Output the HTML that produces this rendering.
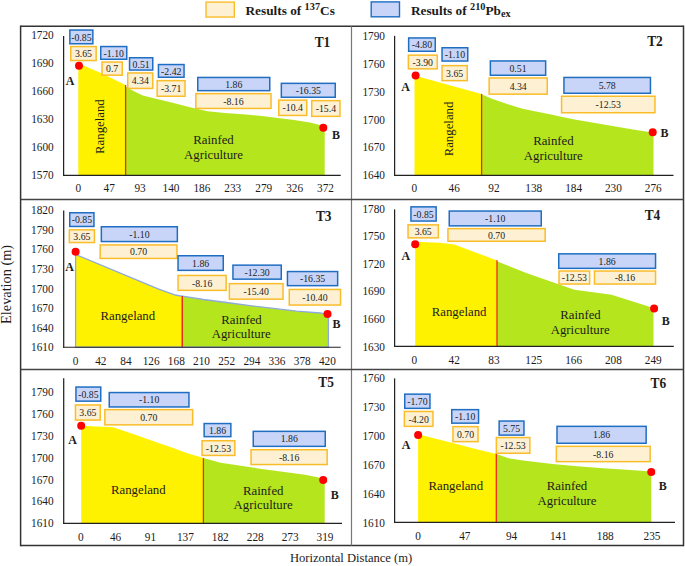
<!DOCTYPE html>
<html><head><meta charset="utf-8"><style>
html,body{margin:0;padding:0;background:#fff;width:685px;height:566px;overflow:hidden}
svg{display:block;font-family:"Liberation Serif",serif}
</style></head><body>
<svg width="685" height="566" viewBox="0 0 685 566" font-family='"Liberation Serif", serif'><polygon points="78.3,63.3 100.3,72.7 125.6,84.9 125.6,175.3 78.3,175.3" fill="#fff200" stroke="none" stroke-width="0"/>
<polygon points="125.6,86.3 126.1,87 137.5,93.1 142.8,95.4 155,98.4 172.6,102.8 190,107.2 207.6,111.2 225,112.9 246,114.5 262,116.1 278,118 294,120.1 310,122.5 320,124.9 324.7,126.5 324.7,175.3 125.6,175.3" fill="#b5e61d" stroke="none" stroke-width="0"/>
<line x1="125.6" y1="85.1" x2="125.6" y2="175.3" stroke="#ee2a12" stroke-width="1.3"/>
<line x1="63.6" y1="36" x2="63.6" y2="175.9" stroke="#222" stroke-width="1.25"/>
<line x1="63.0" y1="175.3" x2="340.7" y2="175.3" stroke="#222" stroke-width="1.2"/>
<text transform="translate(53.7,39.46) scale(1,1.09)" font-size="11.3" text-anchor="end" font-weight="normal" fill="#1c1c1c" >1720</text>
<text transform="translate(53.7,67.44) scale(1,1.09)" font-size="11.3" text-anchor="end" font-weight="normal" fill="#1c1c1c" >1690</text>
<text transform="translate(53.7,95.42) scale(1,1.09)" font-size="11.3" text-anchor="end" font-weight="normal" fill="#1c1c1c" >1660</text>
<text transform="translate(53.7,123.40) scale(1,1.09)" font-size="11.3" text-anchor="end" font-weight="normal" fill="#1c1c1c" >1630</text>
<text transform="translate(53.7,151.38) scale(1,1.09)" font-size="11.3" text-anchor="end" font-weight="normal" fill="#1c1c1c" >1600</text>
<text transform="translate(53.7,179.36) scale(1,1.09)" font-size="11.3" text-anchor="end" font-weight="normal" fill="#1c1c1c" >1570</text>
<text transform="translate(78.30,192.26) scale(1,1.09)" font-size="11.3" text-anchor="middle" font-weight="normal" fill="#1c1c1c" >0</text>
<text transform="translate(109.20,192.26) scale(1,1.09)" font-size="11.3" text-anchor="middle" font-weight="normal" fill="#1c1c1c" >47</text>
<text transform="translate(140.10,192.26) scale(1,1.09)" font-size="11.3" text-anchor="middle" font-weight="normal" fill="#1c1c1c" >93</text>
<text transform="translate(171.00,192.26) scale(1,1.09)" font-size="11.3" text-anchor="middle" font-weight="normal" fill="#1c1c1c" >140</text>
<text transform="translate(201.90,192.26) scale(1,1.09)" font-size="11.3" text-anchor="middle" font-weight="normal" fill="#1c1c1c" >186</text>
<text transform="translate(232.80,192.26) scale(1,1.09)" font-size="11.3" text-anchor="middle" font-weight="normal" fill="#1c1c1c" >233</text>
<text transform="translate(263.70,192.26) scale(1,1.09)" font-size="11.3" text-anchor="middle" font-weight="normal" fill="#1c1c1c" >279</text>
<text transform="translate(294.60,192.26) scale(1,1.09)" font-size="11.3" text-anchor="middle" font-weight="normal" fill="#1c1c1c" >326</text>
<text transform="translate(325.50,192.26) scale(1,1.09)" font-size="11.3" text-anchor="middle" font-weight="normal" fill="#1c1c1c" >372</text>
<rect x="69.85" y="30.05" width="23.00" height="13.70" fill="#c8d5f8" stroke="#1f6ec2" stroke-width="1.5"/>
<text transform="translate(81.35,40.51) scale(1,1.09)" font-size="9.8" text-anchor="middle" font-weight="normal" fill="#1c1c1c" >-0.85</text>
<rect x="70.75" y="46.55" width="25.40" height="14.00" fill="#fdf0d3" stroke="#fabd2a" stroke-width="1.5"/>
<text transform="translate(83.45,57.16) scale(1,1.09)" font-size="9.8" text-anchor="middle" font-weight="normal" fill="#1c1c1c" >3.65</text>
<rect x="100.75" y="46.55" width="26.00" height="12.70" fill="#c8d5f8" stroke="#1f6ec2" stroke-width="1.5"/>
<text transform="translate(113.75,56.51) scale(1,1.09)" font-size="9.8" text-anchor="middle" font-weight="normal" fill="#1c1c1c" >-1.10</text>
<rect x="102.05" y="62.05" width="20.20" height="13.10" fill="#fdf0d3" stroke="#fabd2a" stroke-width="1.5"/>
<text transform="translate(112.15,72.21) scale(1,1.09)" font-size="9.8" text-anchor="middle" font-weight="normal" fill="#1c1c1c" >0.7</text>
<rect x="129.55" y="57.75" width="23.20" height="12.30" fill="#c8d5f8" stroke="#1f6ec2" stroke-width="1.5"/>
<text transform="translate(141.15,67.51) scale(1,1.09)" font-size="9.8" text-anchor="middle" font-weight="normal" fill="#1c1c1c" >0.51</text>
<rect x="127.75" y="72.95" width="25.00" height="15.50" fill="#fdf0d3" stroke="#fabd2a" stroke-width="1.5"/>
<text transform="translate(140.25,84.31) scale(1,1.09)" font-size="9.8" text-anchor="middle" font-weight="normal" fill="#1c1c1c" >4.34</text>
<rect x="158.45" y="64.55" width="25.60" height="12.70" fill="#c8d5f8" stroke="#1f6ec2" stroke-width="1.5"/>
<text transform="translate(171.25,74.51) scale(1,1.09)" font-size="9.8" text-anchor="middle" font-weight="normal" fill="#1c1c1c" >-2.42</text>
<rect x="157.15" y="80.65" width="27.90" height="15.60" fill="#fdf0d3" stroke="#fabd2a" stroke-width="1.5"/>
<text transform="translate(171.10,92.06) scale(1,1.09)" font-size="9.8" text-anchor="middle" font-weight="normal" fill="#1c1c1c" >-3.71</text>
<rect x="197.75" y="77.45" width="72.00" height="13.20" fill="#c8d5f8" stroke="#1f6ec2" stroke-width="1.5"/>
<text transform="translate(233.75,87.66) scale(1,1.09)" font-size="9.8" text-anchor="middle" font-weight="normal" fill="#1c1c1c" >1.86</text>
<rect x="195.85" y="93.65" width="75.20" height="14.80" fill="#fdf0d3" stroke="#fabd2a" stroke-width="1.5"/>
<text transform="translate(233.45,104.66) scale(1,1.09)" font-size="9.8" text-anchor="middle" font-weight="normal" fill="#1c1c1c" >-8.16</text>
<rect x="281.35" y="83.35" width="53.90" height="13.90" fill="#c8d5f8" stroke="#1f6ec2" stroke-width="1.5"/>
<text transform="translate(308.30,93.91) scale(1,1.09)" font-size="9.8" text-anchor="middle" font-weight="normal" fill="#1c1c1c" >-16.35</text>
<rect x="278.75" y="100.15" width="28.00" height="15.30" fill="#fdf0d3" stroke="#fabd2a" stroke-width="1.5"/>
<text transform="translate(292.75,111.41) scale(1,1.09)" font-size="9.8" text-anchor="middle" font-weight="normal" fill="#1c1c1c" >-10.4</text>
<rect x="311.75" y="100.65" width="28.20" height="15.70" fill="#fdf0d3" stroke="#fabd2a" stroke-width="1.5"/>
<text transform="translate(325.85,112.11) scale(1,1.09)" font-size="9.8" text-anchor="middle" font-weight="normal" fill="#1c1c1c" >-15.4</text>
<circle cx="79" cy="65.8" r="4" fill="#ff0000"/>
<circle cx="323.3" cy="127.7" r="4" fill="#ff0000"/>
<text transform="translate(70,84.7) scale(1,1.12)" font-size="12" text-anchor="middle" font-weight="bold" fill="#1c1c1c" >A</text>
<text transform="translate(336,139) scale(1,1.12)" font-size="12" text-anchor="middle" font-weight="bold" fill="#1c1c1c" >B</text>
<text transform="translate(322.5,46.8) scale(1,1.1)" font-size="13.4" text-anchor="middle" font-weight="bold" fill="#1c1c1c" >T1</text>
<text x="0" y="0" font-size="12.8" text-anchor="middle" fill="#1c1c1c" transform="translate(99.0,126.6) rotate(-90) scale(1,1.05)" dy="4.3">Rangeland</text>
<text transform="translate(213.5,144.2) scale(1,1.0)" font-size="12.8" text-anchor="middle" font-weight="normal" fill="#1c1c1c" >Rainfed</text>
<text transform="translate(213.5,158.6) scale(1,1.0)" font-size="12.8" text-anchor="middle" font-weight="normal" fill="#1c1c1c" >Agriculture</text>
<polygon points="414.5,75.4 481.5,93.9 481.5,175.3 414.5,175.3" fill="#fff200" stroke="none" stroke-width="0"/>
<polygon points="481.5,94.3 492.6,99 507.2,104.1 521.8,108.4 533.5,111.1 551,114.6 560,116.4 574.6,119.4 589.2,122.1 603.8,124.6 618.4,127.1 633,129.5 647.6,131.7 653.5,133.2 653.5,175.3 481.5,175.3" fill="#b5e61d" stroke="none" stroke-width="0"/>
<line x1="481.6" y1="93.9" x2="481.6" y2="175.3" stroke="#ee2a12" stroke-width="1.3"/>
<line x1="394.6" y1="35.8" x2="394.6" y2="175.9" stroke="#222" stroke-width="1.25"/>
<line x1="394.0" y1="175.3" x2="673.5" y2="175.3" stroke="#222" stroke-width="1.2"/>
<text transform="translate(385,40.16) scale(1,1.09)" font-size="11.3" text-anchor="end" font-weight="normal" fill="#1c1c1c" >1790</text>
<text transform="translate(385,67.94) scale(1,1.09)" font-size="11.3" text-anchor="end" font-weight="normal" fill="#1c1c1c" >1760</text>
<text transform="translate(385,95.72) scale(1,1.09)" font-size="11.3" text-anchor="end" font-weight="normal" fill="#1c1c1c" >1730</text>
<text transform="translate(385,123.50) scale(1,1.09)" font-size="11.3" text-anchor="end" font-weight="normal" fill="#1c1c1c" >1700</text>
<text transform="translate(385,151.28) scale(1,1.09)" font-size="11.3" text-anchor="end" font-weight="normal" fill="#1c1c1c" >1670</text>
<text transform="translate(385,179.06) scale(1,1.09)" font-size="11.3" text-anchor="end" font-weight="normal" fill="#1c1c1c" >1640</text>
<text transform="translate(414.40,192.06) scale(1,1.09)" font-size="11.3" text-anchor="middle" font-weight="normal" fill="#1c1c1c" >0</text>
<text transform="translate(454.20,192.06) scale(1,1.09)" font-size="11.3" text-anchor="middle" font-weight="normal" fill="#1c1c1c" >46</text>
<text transform="translate(494.00,192.06) scale(1,1.09)" font-size="11.3" text-anchor="middle" font-weight="normal" fill="#1c1c1c" >92</text>
<text transform="translate(533.80,192.06) scale(1,1.09)" font-size="11.3" text-anchor="middle" font-weight="normal" fill="#1c1c1c" >138</text>
<text transform="translate(573.60,192.06) scale(1,1.09)" font-size="11.3" text-anchor="middle" font-weight="normal" fill="#1c1c1c" >184</text>
<text transform="translate(613.40,192.06) scale(1,1.09)" font-size="11.3" text-anchor="middle" font-weight="normal" fill="#1c1c1c" >230</text>
<text transform="translate(653.20,192.06) scale(1,1.09)" font-size="11.3" text-anchor="middle" font-weight="normal" fill="#1c1c1c" >276</text>
<rect x="408.65" y="37.95" width="26.60" height="13.30" fill="#c8d5f8" stroke="#1f6ec2" stroke-width="1.5"/>
<text transform="translate(421.95,48.21) scale(1,1.09)" font-size="9.8" text-anchor="middle" font-weight="normal" fill="#1c1c1c" >-4.80</text>
<rect x="408.35" y="55.15" width="28.90" height="13.70" fill="#fdf0d3" stroke="#fabd2a" stroke-width="1.5"/>
<text transform="translate(422.80,65.61) scale(1,1.09)" font-size="9.8" text-anchor="middle" font-weight="normal" fill="#1c1c1c" >-3.90</text>
<rect x="442.05" y="47.75" width="25.70" height="13.30" fill="#c8d5f8" stroke="#1f6ec2" stroke-width="1.5"/>
<text transform="translate(454.90,58.01) scale(1,1.09)" font-size="9.8" text-anchor="middle" font-weight="normal" fill="#1c1c1c" >-1.10</text>
<rect x="442.05" y="65.65" width="25.20" height="15.00" fill="#fdf0d3" stroke="#fabd2a" stroke-width="1.5"/>
<text transform="translate(454.65,76.76) scale(1,1.09)" font-size="9.8" text-anchor="middle" font-weight="normal" fill="#1c1c1c" >3.65</text>
<rect x="490.35" y="60.95" width="55.30" height="14.30" fill="#c8d5f8" stroke="#1f6ec2" stroke-width="1.5"/>
<text transform="translate(518.00,71.71) scale(1,1.09)" font-size="9.8" text-anchor="middle" font-weight="normal" fill="#1c1c1c" >0.51</text>
<rect x="489.15" y="77.95" width="58.10" height="16.20" fill="#fdf0d3" stroke="#fabd2a" stroke-width="1.5"/>
<text transform="translate(518.20,89.66) scale(1,1.09)" font-size="9.8" text-anchor="middle" font-weight="normal" fill="#1c1c1c" >4.34</text>
<rect x="563.95" y="77.45" width="86.50" height="15.80" fill="#c8d5f8" stroke="#1f6ec2" stroke-width="1.5"/>
<text transform="translate(607.20,88.96) scale(1,1.09)" font-size="9.8" text-anchor="middle" font-weight="normal" fill="#1c1c1c" >5.78</text>
<rect x="561.55" y="96.25" width="93.40" height="16.50" fill="#fdf0d3" stroke="#fabd2a" stroke-width="1.5"/>
<text transform="translate(608.25,108.11) scale(1,1.09)" font-size="9.8" text-anchor="middle" font-weight="normal" fill="#1c1c1c" >-12.53</text>
<circle cx="415.6" cy="75.4" r="4" fill="#ff0000"/>
<circle cx="652.7" cy="132.3" r="4" fill="#ff0000"/>
<text transform="translate(405.6,90.8) scale(1,1.12)" font-size="12" text-anchor="middle" font-weight="bold" fill="#1c1c1c" >A</text>
<text transform="translate(664.5,137) scale(1,1.12)" font-size="12" text-anchor="middle" font-weight="bold" fill="#1c1c1c" >B</text>
<text transform="translate(655,46) scale(1,1.1)" font-size="13.4" text-anchor="middle" font-weight="bold" fill="#1c1c1c" >T2</text>
<text x="0" y="0" font-size="12.8" text-anchor="middle" fill="#1c1c1c" transform="translate(448.0,129.0) rotate(-90) scale(1,1.05)" dy="4.3">Rangeland</text>
<text transform="translate(553.4,144.8) scale(1,1.0)" font-size="12.8" text-anchor="middle" font-weight="normal" fill="#1c1c1c" >Rainfed</text>
<text transform="translate(553.3,159.5) scale(1,1.0)" font-size="12.8" text-anchor="middle" font-weight="normal" fill="#1c1c1c" >Agriculture</text>
<polygon points="75.6,254.5 158.1,288.9 175.4,295 182.3,296.3 182.3,347.25 75.6,347.25" fill="#fff200" stroke="#8eaadc" stroke-width="1.3"/>
<polygon points="182.3,296.2 203.4,299.5 226.7,302.5 250,305.6 273.4,308.4 296.8,311.2 320.2,313 328.4,314.5 328.4,347.25 182.3,347.25" fill="#b5e61d" stroke="#8eaadc" stroke-width="1.3"/>
<line x1="182.3" y1="296" x2="182.3" y2="347" stroke="#ee2a12" stroke-width="1.3"/>
<line x1="63.7" y1="210.5" x2="63.7" y2="347.85" stroke="#222" stroke-width="1.25"/>
<line x1="63.1" y1="347.25" x2="340.7" y2="347.25" stroke="#222" stroke-width="1.2"/>
<text transform="translate(53.6,214.16) scale(1,1.09)" font-size="11.3" text-anchor="end" font-weight="normal" fill="#1c1c1c" >1820</text>
<text transform="translate(53.6,233.76) scale(1,1.09)" font-size="11.3" text-anchor="end" font-weight="normal" fill="#1c1c1c" >1790</text>
<text transform="translate(53.6,253.36) scale(1,1.09)" font-size="11.3" text-anchor="end" font-weight="normal" fill="#1c1c1c" >1760</text>
<text transform="translate(53.6,272.96) scale(1,1.09)" font-size="11.3" text-anchor="end" font-weight="normal" fill="#1c1c1c" >1730</text>
<text transform="translate(53.6,292.56) scale(1,1.09)" font-size="11.3" text-anchor="end" font-weight="normal" fill="#1c1c1c" >1700</text>
<text transform="translate(53.6,312.16) scale(1,1.09)" font-size="11.3" text-anchor="end" font-weight="normal" fill="#1c1c1c" >1670</text>
<text transform="translate(53.6,331.76) scale(1,1.09)" font-size="11.3" text-anchor="end" font-weight="normal" fill="#1c1c1c" >1640</text>
<text transform="translate(53.6,351.36) scale(1,1.09)" font-size="11.3" text-anchor="end" font-weight="normal" fill="#1c1c1c" >1610</text>
<text transform="translate(75.60,364.86) scale(1,1.09)" font-size="11.3" text-anchor="middle" font-weight="normal" fill="#1c1c1c" >0</text>
<text transform="translate(100.78,364.86) scale(1,1.09)" font-size="11.3" text-anchor="middle" font-weight="normal" fill="#1c1c1c" >42</text>
<text transform="translate(125.96,364.86) scale(1,1.09)" font-size="11.3" text-anchor="middle" font-weight="normal" fill="#1c1c1c" >84</text>
<text transform="translate(151.14,364.86) scale(1,1.09)" font-size="11.3" text-anchor="middle" font-weight="normal" fill="#1c1c1c" >126</text>
<text transform="translate(176.32,364.86) scale(1,1.09)" font-size="11.3" text-anchor="middle" font-weight="normal" fill="#1c1c1c" >168</text>
<text transform="translate(201.50,364.86) scale(1,1.09)" font-size="11.3" text-anchor="middle" font-weight="normal" fill="#1c1c1c" >210</text>
<text transform="translate(226.68,364.86) scale(1,1.09)" font-size="11.3" text-anchor="middle" font-weight="normal" fill="#1c1c1c" >252</text>
<text transform="translate(251.86,364.86) scale(1,1.09)" font-size="11.3" text-anchor="middle" font-weight="normal" fill="#1c1c1c" >294</text>
<text transform="translate(277.04,364.86) scale(1,1.09)" font-size="11.3" text-anchor="middle" font-weight="normal" fill="#1c1c1c" >336</text>
<text transform="translate(302.22,364.86) scale(1,1.09)" font-size="11.3" text-anchor="middle" font-weight="normal" fill="#1c1c1c" >378</text>
<text transform="translate(327.40,364.86) scale(1,1.09)" font-size="11.3" text-anchor="middle" font-weight="normal" fill="#1c1c1c" >420</text>
<rect x="69.75" y="212.75" width="24.20" height="13.70" fill="#c8d5f8" stroke="#1f6ec2" stroke-width="1.5"/>
<text transform="translate(81.85,223.21) scale(1,1.09)" font-size="9.8" text-anchor="middle" font-weight="normal" fill="#1c1c1c" >-0.85</text>
<rect x="69.35" y="229.85" width="25.10" height="12.70" fill="#fdf0d3" stroke="#fabd2a" stroke-width="1.5"/>
<text transform="translate(81.90,239.81) scale(1,1.09)" font-size="9.8" text-anchor="middle" font-weight="normal" fill="#1c1c1c" >3.65</text>
<rect x="101.35" y="226.75" width="76.00" height="14.80" fill="#c8d5f8" stroke="#1f6ec2" stroke-width="1.5"/>
<text transform="translate(139.35,237.76) scale(1,1.09)" font-size="9.8" text-anchor="middle" font-weight="normal" fill="#1c1c1c" >-1.10</text>
<rect x="100.15" y="244.95" width="76.80" height="13.50" fill="#fdf0d3" stroke="#fabd2a" stroke-width="1.5"/>
<text transform="translate(138.55,255.31) scale(1,1.09)" font-size="9.8" text-anchor="middle" font-weight="normal" fill="#1c1c1c" >0.70</text>
<rect x="178.05" y="255.75" width="45.20" height="14.60" fill="#c8d5f8" stroke="#1f6ec2" stroke-width="1.5"/>
<text transform="translate(200.65,266.66) scale(1,1.09)" font-size="9.8" text-anchor="middle" font-weight="normal" fill="#1c1c1c" >1.86</text>
<rect x="178.05" y="275.45" width="48.10" height="14.90" fill="#fdf0d3" stroke="#fabd2a" stroke-width="1.5"/>
<text transform="translate(202.10,286.51) scale(1,1.09)" font-size="9.8" text-anchor="middle" font-weight="normal" fill="#1c1c1c" >-8.16</text>
<rect x="232.95" y="265.15" width="48.30" height="14.00" fill="#c8d5f8" stroke="#1f6ec2" stroke-width="1.5"/>
<text transform="translate(257.10,275.76) scale(1,1.09)" font-size="9.8" text-anchor="middle" font-weight="normal" fill="#1c1c1c" >-12.30</text>
<rect x="229.35" y="283.65" width="53.70" height="15.50" fill="#fdf0d3" stroke="#fabd2a" stroke-width="1.5"/>
<text transform="translate(256.20,295.01) scale(1,1.09)" font-size="9.8" text-anchor="middle" font-weight="normal" fill="#1c1c1c" >-15.40</text>
<rect x="287.45" y="271.55" width="50.20" height="14.10" fill="#c8d5f8" stroke="#1f6ec2" stroke-width="1.5"/>
<text transform="translate(312.55,282.21) scale(1,1.09)" font-size="9.8" text-anchor="middle" font-weight="normal" fill="#1c1c1c" >-16.35</text>
<rect x="289.25" y="289.45" width="51.30" height="15.60" fill="#fdf0d3" stroke="#fabd2a" stroke-width="1.5"/>
<text transform="translate(314.90,300.86) scale(1,1.09)" font-size="9.8" text-anchor="middle" font-weight="normal" fill="#1c1c1c" >-10.40</text>
<circle cx="75.6" cy="251.8" r="4" fill="#ff0000"/>
<circle cx="327.5" cy="314" r="4" fill="#ff0000"/>
<text transform="translate(69.6,270.6) scale(1,1.12)" font-size="12" text-anchor="middle" font-weight="bold" fill="#1c1c1c" >A</text>
<text transform="translate(336.6,328.2) scale(1,1.12)" font-size="12" text-anchor="middle" font-weight="bold" fill="#1c1c1c" >B</text>
<text transform="translate(323.7,220.7) scale(1,1.1)" font-size="13.4" text-anchor="middle" font-weight="bold" fill="#1c1c1c" >T3</text>
<text transform="translate(127.8,319.9) scale(1,1.0)" font-size="12.8" text-anchor="middle" font-weight="normal" fill="#1c1c1c" >Rangeland</text>
<text transform="translate(241.5,323.8) scale(1,1.0)" font-size="12.8" text-anchor="middle" font-weight="normal" fill="#1c1c1c" >Rainfed</text>
<text transform="translate(241.2,338.3) scale(1,1.0)" font-size="12.8" text-anchor="middle" font-weight="normal" fill="#1c1c1c" >Agriculture</text>
<polygon points="415.2,241.8 440,242.7 454.2,244.5 497,260.4 497,346.4 415.2,346.4" fill="#fff200" stroke="none" stroke-width="0"/>
<polygon points="497,261.2 527,273.3 574.4,289.7 611.6,294.7 652.5,307.8 653.5,308.5 653.5,346.4 497,346.4" fill="#b5e61d" stroke="none" stroke-width="0"/>
<line x1="497" y1="260.2" x2="497" y2="346.4" stroke="#ee2a12" stroke-width="1.3"/>
<line x1="394.6" y1="209.4" x2="394.6" y2="347.0" stroke="#222" stroke-width="1.25"/>
<line x1="394.0" y1="346.4" x2="673.8" y2="346.4" stroke="#222" stroke-width="1.2"/>
<text transform="translate(385,212.66) scale(1,1.09)" font-size="11.3" text-anchor="end" font-weight="normal" fill="#1c1c1c" >1780</text>
<text transform="translate(385,240.24) scale(1,1.09)" font-size="11.3" text-anchor="end" font-weight="normal" fill="#1c1c1c" >1750</text>
<text transform="translate(385,267.82) scale(1,1.09)" font-size="11.3" text-anchor="end" font-weight="normal" fill="#1c1c1c" >1720</text>
<text transform="translate(385,295.40) scale(1,1.09)" font-size="11.3" text-anchor="end" font-weight="normal" fill="#1c1c1c" >1690</text>
<text transform="translate(385,322.98) scale(1,1.09)" font-size="11.3" text-anchor="end" font-weight="normal" fill="#1c1c1c" >1660</text>
<text transform="translate(385,350.56) scale(1,1.09)" font-size="11.3" text-anchor="end" font-weight="normal" fill="#1c1c1c" >1630</text>
<text transform="translate(414.40,363.96) scale(1,1.09)" font-size="11.3" text-anchor="middle" font-weight="normal" fill="#1c1c1c" >0</text>
<text transform="translate(454.20,363.96) scale(1,1.09)" font-size="11.3" text-anchor="middle" font-weight="normal" fill="#1c1c1c" >42</text>
<text transform="translate(494.00,363.96) scale(1,1.09)" font-size="11.3" text-anchor="middle" font-weight="normal" fill="#1c1c1c" >83</text>
<text transform="translate(533.80,363.96) scale(1,1.09)" font-size="11.3" text-anchor="middle" font-weight="normal" fill="#1c1c1c" >125</text>
<text transform="translate(573.60,363.96) scale(1,1.09)" font-size="11.3" text-anchor="middle" font-weight="normal" fill="#1c1c1c" >166</text>
<text transform="translate(613.40,363.96) scale(1,1.09)" font-size="11.3" text-anchor="middle" font-weight="normal" fill="#1c1c1c" >208</text>
<text transform="translate(653.20,363.96) scale(1,1.09)" font-size="11.3" text-anchor="middle" font-weight="normal" fill="#1c1c1c" >249</text>
<rect x="410.95" y="206.85" width="25.20" height="14.20" fill="#c8d5f8" stroke="#1f6ec2" stroke-width="1.5"/>
<text transform="translate(423.55,217.56) scale(1,1.09)" font-size="9.8" text-anchor="middle" font-weight="normal" fill="#1c1c1c" >-0.85</text>
<rect x="408.05" y="224.85" width="30.30" height="13.00" fill="#fdf0d3" stroke="#fabd2a" stroke-width="1.5"/>
<text transform="translate(423.20,234.96) scale(1,1.09)" font-size="9.8" text-anchor="middle" font-weight="normal" fill="#1c1c1c" >3.65</text>
<rect x="449.25" y="211.05" width="92.00" height="14.80" fill="#c8d5f8" stroke="#1f6ec2" stroke-width="1.5"/>
<text transform="translate(495.25,222.06) scale(1,1.09)" font-size="9.8" text-anchor="middle" font-weight="normal" fill="#1c1c1c" >-1.10</text>
<rect x="447.95" y="228.65" width="97.20" height="12.60" fill="#fdf0d3" stroke="#fabd2a" stroke-width="1.5"/>
<text transform="translate(496.55,238.56) scale(1,1.09)" font-size="9.8" text-anchor="middle" font-weight="normal" fill="#1c1c1c" >0.70</text>
<rect x="558.75" y="253.85" width="96.80" height="14.50" fill="#c8d5f8" stroke="#1f6ec2" stroke-width="1.5"/>
<text transform="translate(607.15,264.71) scale(1,1.09)" font-size="9.8" text-anchor="middle" font-weight="normal" fill="#1c1c1c" >1.86</text>
<rect x="559.05" y="271.05" width="30.60" height="13.00" fill="#fdf0d3" stroke="#fabd2a" stroke-width="1.5"/>
<text transform="translate(574.35,281.16) scale(1,1.09)" font-size="9.8" text-anchor="middle" font-weight="normal" fill="#1c1c1c" >-12.53</text>
<rect x="594.45" y="271.05" width="61.10" height="13.00" fill="#fdf0d3" stroke="#fabd2a" stroke-width="1.5"/>
<text transform="translate(625.00,281.16) scale(1,1.09)" font-size="9.8" text-anchor="middle" font-weight="normal" fill="#1c1c1c" >-8.16</text>
<circle cx="415.2" cy="244.2" r="4" fill="#ff0000"/>
<circle cx="654.1" cy="308.4" r="4" fill="#ff0000"/>
<text transform="translate(405.9,260.1) scale(1,1.12)" font-size="12" text-anchor="middle" font-weight="bold" fill="#1c1c1c" >A</text>
<text transform="translate(665.8,324.7) scale(1,1.12)" font-size="12" text-anchor="middle" font-weight="bold" fill="#1c1c1c" >B</text>
<text transform="translate(652.5,220.2) scale(1,1.1)" font-size="13.4" text-anchor="middle" font-weight="bold" fill="#1c1c1c" >T4</text>
<text transform="translate(459.1,315.7) scale(1,1.0)" font-size="12.8" text-anchor="middle" font-weight="normal" fill="#1c1c1c" >Rangeland</text>
<text transform="translate(580.5,319.3) scale(1,1.0)" font-size="12.8" text-anchor="middle" font-weight="normal" fill="#1c1c1c" >Rainfed</text>
<text transform="translate(580.2,334) scale(1,1.0)" font-size="12.8" text-anchor="middle" font-weight="normal" fill="#1c1c1c" >Agriculture</text>
<polygon points="81.2,425.8 113.2,427.2 119,429.3 134.7,434.6 154.3,441.5 173.8,448.3 187.5,453.2 203.4,458.1 203.4,523.3 81.2,523.3" fill="#fff200" stroke="none" stroke-width="0"/>
<polygon points="203.4,458.1 220.6,462.8 258.1,468.4 305,474.7 323.8,478.4 324.7,480 324.7,523.3 203.4,523.3" fill="#b5e61d" stroke="none" stroke-width="0"/>
<line x1="203.4" y1="458.1" x2="203.4" y2="523.3" stroke="#ee2a12" stroke-width="1.3"/>
<line x1="63.7" y1="378.2" x2="63.7" y2="523.9" stroke="#222" stroke-width="1.25"/>
<line x1="63.1" y1="523.3" x2="342" y2="523.3" stroke="#222" stroke-width="1.2"/>
<text transform="translate(53.6,395.96) scale(1,1.09)" font-size="11.3" text-anchor="end" font-weight="normal" fill="#1c1c1c" >1790</text>
<text transform="translate(53.6,417.86) scale(1,1.09)" font-size="11.3" text-anchor="end" font-weight="normal" fill="#1c1c1c" >1760</text>
<text transform="translate(53.6,439.76) scale(1,1.09)" font-size="11.3" text-anchor="end" font-weight="normal" fill="#1c1c1c" >1730</text>
<text transform="translate(53.6,461.66) scale(1,1.09)" font-size="11.3" text-anchor="end" font-weight="normal" fill="#1c1c1c" >1700</text>
<text transform="translate(53.6,483.56) scale(1,1.09)" font-size="11.3" text-anchor="end" font-weight="normal" fill="#1c1c1c" >1670</text>
<text transform="translate(53.6,505.46) scale(1,1.09)" font-size="11.3" text-anchor="end" font-weight="normal" fill="#1c1c1c" >1640</text>
<text transform="translate(53.6,527.36) scale(1,1.09)" font-size="11.3" text-anchor="end" font-weight="normal" fill="#1c1c1c" >1610</text>
<text transform="translate(80.70,540.86) scale(1,1.09)" font-size="11.3" text-anchor="middle" font-weight="normal" fill="#1c1c1c" >0</text>
<text transform="translate(115.60,540.86) scale(1,1.09)" font-size="11.3" text-anchor="middle" font-weight="normal" fill="#1c1c1c" >46</text>
<text transform="translate(150.50,540.86) scale(1,1.09)" font-size="11.3" text-anchor="middle" font-weight="normal" fill="#1c1c1c" >91</text>
<text transform="translate(185.40,540.86) scale(1,1.09)" font-size="11.3" text-anchor="middle" font-weight="normal" fill="#1c1c1c" >137</text>
<text transform="translate(220.30,540.86) scale(1,1.09)" font-size="11.3" text-anchor="middle" font-weight="normal" fill="#1c1c1c" >182</text>
<text transform="translate(255.20,540.86) scale(1,1.09)" font-size="11.3" text-anchor="middle" font-weight="normal" fill="#1c1c1c" >228</text>
<text transform="translate(290.10,540.86) scale(1,1.09)" font-size="11.3" text-anchor="middle" font-weight="normal" fill="#1c1c1c" >273</text>
<text transform="translate(325.00,540.86) scale(1,1.09)" font-size="11.3" text-anchor="middle" font-weight="normal" fill="#1c1c1c" >319</text>
<rect x="75.95" y="387.05" width="24.80" height="14.10" fill="#c8d5f8" stroke="#1f6ec2" stroke-width="1.5"/>
<text transform="translate(88.35,397.71) scale(1,1.09)" font-size="9.8" text-anchor="middle" font-weight="normal" fill="#1c1c1c" >-0.85</text>
<rect x="75.45" y="404.95" width="24.80" height="15.10" fill="#fdf0d3" stroke="#fabd2a" stroke-width="1.5"/>
<text transform="translate(87.85,416.11) scale(1,1.09)" font-size="9.8" text-anchor="middle" font-weight="normal" fill="#1c1c1c" >3.65</text>
<rect x="109.25" y="392.55" width="79.70" height="14.40" fill="#c8d5f8" stroke="#1f6ec2" stroke-width="1.5"/>
<text transform="translate(149.10,403.36) scale(1,1.09)" font-size="9.8" text-anchor="middle" font-weight="normal" fill="#1c1c1c" >-1.10</text>
<rect x="104.85" y="409.65" width="87.80" height="15.20" fill="#fdf0d3" stroke="#fabd2a" stroke-width="1.5"/>
<text transform="translate(148.75,420.86) scale(1,1.09)" font-size="9.8" text-anchor="middle" font-weight="normal" fill="#1c1c1c" >0.70</text>
<rect x="204.15" y="423.55" width="26.70" height="13.10" fill="#c8d5f8" stroke="#1f6ec2" stroke-width="1.5"/>
<text transform="translate(217.50,433.71) scale(1,1.09)" font-size="9.8" text-anchor="middle" font-weight="normal" fill="#1c1c1c" >1.86</text>
<rect x="202.05" y="440.75" width="32.80" height="14.70" fill="#fdf0d3" stroke="#fabd2a" stroke-width="1.5"/>
<text transform="translate(218.45,451.71) scale(1,1.09)" font-size="9.8" text-anchor="middle" font-weight="normal" fill="#1c1c1c" >-12.53</text>
<rect x="253.25" y="431.35" width="72.00" height="15.00" fill="#c8d5f8" stroke="#1f6ec2" stroke-width="1.5"/>
<text transform="translate(289.25,442.46) scale(1,1.09)" font-size="9.8" text-anchor="middle" font-weight="normal" fill="#1c1c1c" >1.86</text>
<rect x="251.05" y="449.75" width="76.10" height="14.80" fill="#fdf0d3" stroke="#fabd2a" stroke-width="1.5"/>
<text transform="translate(289.10,460.76) scale(1,1.09)" font-size="9.8" text-anchor="middle" font-weight="normal" fill="#1c1c1c" >-8.16</text>
<circle cx="81.2" cy="425.8" r="4" fill="#ff0000"/>
<circle cx="323.2" cy="480" r="4" fill="#ff0000"/>
<text transform="translate(72.6,443.9) scale(1,1.12)" font-size="12" text-anchor="middle" font-weight="bold" fill="#1c1c1c" >A</text>
<text transform="translate(334.8,498.6) scale(1,1.12)" font-size="12" text-anchor="middle" font-weight="bold" fill="#1c1c1c" >B</text>
<text transform="translate(326.1,386.8) scale(1,1.1)" font-size="13.4" text-anchor="middle" font-weight="bold" fill="#1c1c1c" >T5</text>
<text transform="translate(138.3,493.9) scale(1,1.0)" font-size="12.8" text-anchor="middle" font-weight="normal" fill="#1c1c1c" >Rangeland</text>
<text transform="translate(263.2,494.5) scale(1,1.0)" font-size="12.8" text-anchor="middle" font-weight="normal" fill="#1c1c1c" >Rainfed</text>
<text transform="translate(263.1,509.3) scale(1,1.0)" font-size="12.8" text-anchor="middle" font-weight="normal" fill="#1c1c1c" >Agriculture</text>
<polygon points="418.1,434.3 451.6,442.8 476.7,449.3 496.5,454 496.5,522.45 418.1,522.45" fill="#fff200" stroke="none" stroke-width="0"/>
<polygon points="496.3,454 508.6,458.2 523.2,460.4 552.4,464.1 580,466.6 603.4,468.3 626.7,469.8 647.8,471.2 651.3,472.5 651.3,522.45 496.3,522.45" fill="#b5e61d" stroke="none" stroke-width="0"/>
<line x1="496.3" y1="453.6" x2="496.3" y2="522.45" stroke="#ee2a12" stroke-width="1.3"/>
<line x1="394.6" y1="378.4" x2="394.6" y2="523.0500000000001" stroke="#222" stroke-width="1.25"/>
<line x1="394.0" y1="522.45" x2="675" y2="522.45" stroke="#222" stroke-width="1.2"/>
<text transform="translate(385,381.66) scale(1,1.09)" font-size="11.3" text-anchor="end" font-weight="normal" fill="#1c1c1c" >1760</text>
<text transform="translate(385,410.67) scale(1,1.09)" font-size="11.3" text-anchor="end" font-weight="normal" fill="#1c1c1c" >1730</text>
<text transform="translate(385,439.68) scale(1,1.09)" font-size="11.3" text-anchor="end" font-weight="normal" fill="#1c1c1c" >1700</text>
<text transform="translate(385,468.69) scale(1,1.09)" font-size="11.3" text-anchor="end" font-weight="normal" fill="#1c1c1c" >1670</text>
<text transform="translate(385,497.70) scale(1,1.09)" font-size="11.3" text-anchor="end" font-weight="normal" fill="#1c1c1c" >1640</text>
<text transform="translate(385,526.71) scale(1,1.09)" font-size="11.3" text-anchor="end" font-weight="normal" fill="#1c1c1c" >1610</text>
<text transform="translate(418.00,540.36) scale(1,1.09)" font-size="11.3" text-anchor="middle" font-weight="normal" fill="#1c1c1c" >0</text>
<text transform="translate(464.80,540.36) scale(1,1.09)" font-size="11.3" text-anchor="middle" font-weight="normal" fill="#1c1c1c" >47</text>
<text transform="translate(511.60,540.36) scale(1,1.09)" font-size="11.3" text-anchor="middle" font-weight="normal" fill="#1c1c1c" >94</text>
<text transform="translate(558.40,540.36) scale(1,1.09)" font-size="11.3" text-anchor="middle" font-weight="normal" fill="#1c1c1c" >141</text>
<text transform="translate(605.20,540.36) scale(1,1.09)" font-size="11.3" text-anchor="middle" font-weight="normal" fill="#1c1c1c" >188</text>
<text transform="translate(652.00,540.36) scale(1,1.09)" font-size="11.3" text-anchor="middle" font-weight="normal" fill="#1c1c1c" >235</text>
<rect x="404.75" y="394.15" width="25.20" height="14.20" fill="#c8d5f8" stroke="#1f6ec2" stroke-width="1.5"/>
<text transform="translate(417.35,404.86) scale(1,1.09)" font-size="9.8" text-anchor="middle" font-weight="normal" fill="#1c1c1c" >-1.70</text>
<rect x="404.35" y="411.45" width="28.60" height="14.90" fill="#fdf0d3" stroke="#fabd2a" stroke-width="1.5"/>
<text transform="translate(418.65,422.51) scale(1,1.09)" font-size="9.8" text-anchor="middle" font-weight="normal" fill="#1c1c1c" >-4.20</text>
<rect x="451.75" y="409.65" width="26.80" height="13.50" fill="#c8d5f8" stroke="#1f6ec2" stroke-width="1.5"/>
<text transform="translate(465.15,420.01) scale(1,1.09)" font-size="9.8" text-anchor="middle" font-weight="normal" fill="#1c1c1c" >-1.10</text>
<rect x="452.95" y="426.65" width="25.10" height="15.00" fill="#fdf0d3" stroke="#fabd2a" stroke-width="1.5"/>
<text transform="translate(465.50,437.76) scale(1,1.09)" font-size="9.8" text-anchor="middle" font-weight="normal" fill="#1c1c1c" >0.70</text>
<rect x="499.15" y="421.05" width="24.80" height="14.05" fill="#c8d5f8" stroke="#1f6ec2" stroke-width="1.5"/>
<text transform="translate(511.55,431.69) scale(1,1.09)" font-size="9.8" text-anchor="middle" font-weight="normal" fill="#1c1c1c" >5.75</text>
<rect x="496.35" y="437.55" width="33.50" height="15.70" fill="#fdf0d3" stroke="#fabd2a" stroke-width="1.5"/>
<text transform="translate(513.10,449.01) scale(1,1.09)" font-size="9.8" text-anchor="middle" font-weight="normal" fill="#1c1c1c" >-12.53</text>
<rect x="557.00" y="426.35" width="89.15" height="16.90" fill="#c8d5f8" stroke="#1f6ec2" stroke-width="1.5"/>
<text transform="translate(601.58,438.41) scale(1,1.09)" font-size="9.8" text-anchor="middle" font-weight="normal" fill="#1c1c1c" >1.86</text>
<rect x="556.35" y="446.35" width="93.80" height="15.30" fill="#fdf0d3" stroke="#fabd2a" stroke-width="1.5"/>
<text transform="translate(603.25,457.61) scale(1,1.09)" font-size="9.8" text-anchor="middle" font-weight="normal" fill="#1c1c1c" >-8.16</text>
<circle cx="418.1" cy="434.9" r="4" fill="#ff0000"/>
<circle cx="651.25" cy="472.1" r="4" fill="#ff0000"/>
<text transform="translate(406.2,449.4) scale(1,1.12)" font-size="12" text-anchor="middle" font-weight="bold" fill="#1c1c1c" >A</text>
<text transform="translate(662.7,490.4) scale(1,1.12)" font-size="12" text-anchor="middle" font-weight="bold" fill="#1c1c1c" >B</text>
<text transform="translate(658.3,387.75) scale(1,1.1)" font-size="13.4" text-anchor="middle" font-weight="bold" fill="#1c1c1c" >T6</text>
<text transform="translate(455.8,489.9) scale(1,1.0)" font-size="12.8" text-anchor="middle" font-weight="normal" fill="#1c1c1c" >Rangeland</text>
<text transform="translate(567,489.8) scale(1,1.0)" font-size="12.8" text-anchor="middle" font-weight="normal" fill="#1c1c1c" >Rainfed</text>
<text transform="translate(567,504.5) scale(1,1.0)" font-size="12.8" text-anchor="middle" font-weight="normal" fill="#1c1c1c" >Agriculture</text>
<line x1="20.6" y1="26.3" x2="683.5" y2="26.3" stroke="#333" stroke-width="1.5"/>
<line x1="20.6" y1="545.4" x2="683.5" y2="545.4" stroke="#333" stroke-width="1.5"/>
<line x1="20.6" y1="25.55" x2="20.6" y2="546.15" stroke="#333" stroke-width="1.5"/>
<line x1="683.5" y1="25.55" x2="683.5" y2="546.15" stroke="#333" stroke-width="1.5"/>
<line x1="351.5" y1="26.3" x2="351.5" y2="545.4" stroke="#777" stroke-width="1.2"/>
<line x1="20.6" y1="199.5" x2="683.5" y2="199.5" stroke="#444" stroke-width="1.5"/>
<line x1="20.6" y1="369.4" x2="683.5" y2="369.4" stroke="#444" stroke-width="1.5"/>
<rect x="206" y="2.1" width="28.3" height="14.95" fill="#fdf0d3" stroke="#fabd2a" stroke-width="1.4"/>
<text transform="translate(245.5,14.9)" font-size="13.3" font-weight="bold" fill="#1c1c1c">Results of <tspan font-size="10.3" dy="-4.6">137</tspan><tspan dy="4.6">Cs</tspan></text>
<rect x="371.2" y="1.9" width="28.3" height="14.9" fill="#c8d5f8" stroke="#1f6ec2" stroke-width="1.4"/>
<text transform="translate(410.9,14.9)" font-size="13.3" font-weight="bold" fill="#1c1c1c">Results of <tspan font-size="10.3" dy="-4.6">210</tspan><tspan dy="4.6">Pb</tspan><tspan font-size="10.3" dy="2.0">ex</tspan></text>
<text x="0" y="0" font-size="14.3" text-anchor="middle" fill="#1c1c1c" transform="translate(11.4,284.4) rotate(-90)">Elevation (m)</text>
<text transform="translate(351.1,561.8) scale(1,1.04)" font-size="12.6" text-anchor="middle" fill="#1c1c1c">Horizontal Distance (m)</text></svg>
</body></html>
